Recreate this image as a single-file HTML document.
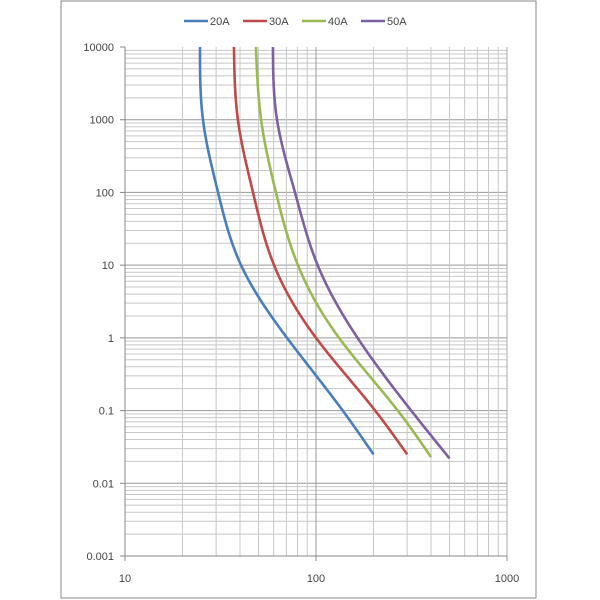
<!DOCTYPE html>
<html><head><meta charset="utf-8"><style>
html,body{margin:0;padding:0;background:#fff;}
svg{display:block;font-family:"Liberation Sans",sans-serif;}
</style></head><body>
<svg id="chart" width="600" height="600">
<rect x="61" y="1" width="475" height="597" fill="#fff" stroke="#888" stroke-width="1"/>
<g id="grid"></g>
<g id="axes"></g>
<g id="series"></g>
<g id="legend"></g>
</svg>
<script>
const seriesNames=["20A","30A","40A","50A"];
const seriesColors=["#4a7ebb","#be4b48","#98b954","#7d60a0"];
const s20x=[24.7,25.6,30.7,40.5,70.5,138,200];
const s20y=[10000,1000,100,10,1,0.1,0.025];
const s30x=[37.2,39,46.8,60.3,100,204,300];
const s30y=[10000,1000,100,10,1,0.1,0.025];
const s40x=[48.5,51.6,61.7,80.4,132,268,400];
const s40y=[10000,1000,100,10,1,0.1,0.023];
const s50x=[59.5,62.5,77.6,102,165,315,500];
const s50y=[10000,1000,100,10,1,0.1,0.022];
const xTicks=[10,100,1000];
const yTicks=[0.001,0.01,0.1,1,10,100,1000,10000];
const yTickLabels=["0.001","0.01","0.1","1","10","100","1000","10000"];

const X0=125,X1=507,Y0=556,Y1=47;
const xs=v=>X0+(X1-X0)*(Math.log10(v)-1)/2;
const ys=v=>Y0-(Y0-Y1)*(Math.log10(v)+3)/7;
const NS="http://www.w3.org/2000/svg";
function mk(t,a,p){const e=document.createElementNS(NS,t);for(const k in a)e.setAttribute(k,a[k]);p.appendChild(e);return e;}
const grid=document.getElementById('grid'),axes=document.getElementById('axes'),ser=document.getElementById('series'),leg=document.getElementById('legend');
for(let d=-3;d<4;d++)for(let m=1;m<10;m++){const v=m*Math.pow(10,d);const y=ys(v);
 const l=mk('line',{x1:X0,x2:X1,y1:y,y2:y,stroke:m==1?'#999':'#c8c8c8','stroke-width':1},grid);
 }
for(let d=1;d<3;d++)for(let m=1;m<10;m++){const v=m*Math.pow(10,d);const x=xs(v);
 const l=mk('line',{x1:x,x2:x,y1:Y1,y2:Y0,stroke:m==1?'#999':'#c8c8c8','stroke-width':1},grid);
 }
{const l=mk('line',{x1:X1,x2:X1,y1:Y1,y2:Y0,stroke:'#aaa'},grid);}
{const a=mk('line',{x1:X0,x2:X0,y1:Y1,y2:Y0,stroke:'#888'},axes);
 const b=mk('line',{x1:X0,x2:X1,y1:Y0,y2:Y0,stroke:'#888'},axes);}
yTicks.forEach((v,i)=>{const y=ys(v);
 const tk=mk('line',{x1:X0-5,x2:X0,y1:y,y2:y,stroke:'#888'},axes);
 const t=mk('text',{x:X0-11,y:y+4,'text-anchor':'end','font-size':11,fill:'#444'},axes);t.textContent=yTickLabels[i];
 });
xTicks.forEach(v=>{const x=xs(v);
 const tk=mk('line',{x1:x,x2:x,y1:Y0,y2:Y0+5,stroke:'#888'},axes);
 const t=mk('text',{x:x,y:Y0+26,'text-anchor':'middle','font-size':11,fill:'#444'},axes);t.textContent=String(v);
 });
// natural cubic spline of pixel x as a function of pixel y
function curve(px,py){
 const Y=py.map(ys),X=px.map(xs),n=Y.length;
 const h=[],al=[],l=[1],mu=[0],z=[0],c=new Array(n).fill(0),b=[],dd=[];
 for(let i=0;i<n-1;i++)h.push(Y[i+1]-Y[i]);
 for(let i=1;i<n-1;i++)al[i]=3/h[i]*(X[i+1]-X[i])-3/h[i-1]*(X[i]-X[i-1]);
 for(let i=1;i<n-1;i++){l[i]=2*(Y[i+1]-Y[i-1])-h[i-1]*mu[i-1];mu[i]=h[i]/l[i];z[i]=(al[i]-h[i-1]*z[i-1])/l[i];}
 for(let j=n-2;j>=0;j--){c[j]=(j>0?z[j]:0)-mu[j]*c[j+1];}
 c[0]=0;for(let j=0;j<n-1;j++){b[j]=(X[j+1]-X[j])/h[j]-h[j]*(c[j+1]+2*c[j])/3;dd[j]=(c[j+1]-c[j])/(3*h[j]);}
 let path='M'+X[0]+','+Y[0];
 for(let j=0;j<n-1;j++){for(let k=1;k<=30;k++){const t=h[j]*k/30;
  const x=X[j]+b[j]*t+c[j]*t*t+dd[j]*t*t*t;path+=' L'+x.toFixed(2)+','+(Y[j]+t).toFixed(2);}}
 return path;}
const allX=[s20x,s30x,s40x,s50x],allY=[s20y,s30y,s40y,s50y];
allX.forEach((sx,i)=>{const p=mk('path',{d:curve(sx,allY[i]),fill:'none',stroke:seriesColors[i],'stroke-width':2.6,'stroke-linejoin':'round'},ser);
 });
const lx=[184,243,302,361];
seriesNames.forEach((n,i)=>{const g=mk('g',{},leg);
 mk('line',{x1:lx[i],x2:lx[i]+24,y1:21,y2:21,stroke:seriesColors[i],'stroke-width':2.6},g);
 const t=mk('text',{x:lx[i]+26,y:25,'font-size':11,fill:'#444'},g);t.textContent=n;});
</script>
</body></html>
